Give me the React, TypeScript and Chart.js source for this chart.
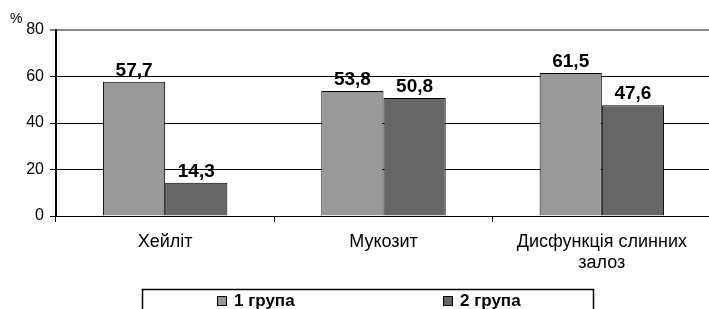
import React, { useEffect, useRef } from "react";
import { Chart, registerables } from "chart.js";

Chart.register(...registerables);

const categories: (string | string[])[] = ["Хейліт", "Мукозит", ["Дисфункція слинних", "залоз"]];
const seriesNames = ["1 група", "2 група"];
const group1 = [57.7, 53.8, 61.5];
const group2 = [14.3, 50.8, 47.6];
const seriesColors = ["#999999", "#666666"];
const yTicks = [0, 20, 40, 60, 80];
const unitLabel = "%";

const FONT = "'Liberation Sans', Arial, sans-serif";

const fmt = (v: number) => String(v).replace(".", ",");

const overlay = {
  id: "overlay",
  afterDatasetsDraw(chart: any) {
    const ctx = chart.ctx;
    ctx.save();
    // value labels
    ctx.font = `bold 19px ${FONT}`;
    ctx.fillStyle = "#000";
    ctx.textAlign = "center";
    ctx.textBaseline = "alphabetic";
    chart.data.datasets.forEach((ds: any, i: number) => {
      chart.getDatasetMeta(i).data.forEach((el: any, j: number) => {
        ctx.fillText(fmt(ds.data[j]), el.x, el.y - 6);
      });
    });
    // unit label
    ctx.font = `14px ${FONT}`;
    ctx.textAlign = "left";
    ctx.fillText(unitLabel, 10, 23);
    // legend
    ctx.strokeStyle = "#000";
    ctx.lineWidth = 1.5;
    ctx.strokeRect(142.5, 289.5, 451, 40);
    const itemX = [217, 443];
    chart.data.datasets.forEach((ds: any, i: number) => {
      const x = itemX[i];
      ctx.fillStyle = ds.backgroundColor;
      ctx.fillRect(x, 296, 10, 10);
      ctx.lineWidth = 1;
      ctx.strokeStyle = "#000";
      ctx.strokeRect(x + 0.5, 296.5, 9, 9);
      ctx.fillStyle = "#000";
      ctx.font = `bold 17px ${FONT}`;
      ctx.textAlign = "left";
      ctx.fillText(ds.label, x + 17, 306);
    });
    ctx.restore();
  },
};

export default function App() {
  const ref = useRef<HTMLCanvasElement>(null);
  useEffect(() => {
    if (!ref.current) return;
    const chart = new Chart(ref.current, {
      type: "bar",
      data: {
        labels: categories as any,
        datasets: [
          {
            label: seriesNames[0],
            data: group1,
            backgroundColor: seriesColors[0],
            borderColor: "#000",
            borderWidth: 1,
          },
          {
            label: seriesNames[1],
            data: group2,
            backgroundColor: seriesColors[1],
            borderColor: "#000",
            borderWidth: 1,
          },
        ],
      },
      options: {
        responsive: false,
        animation: false,
        devicePixelRatio: 1,
        layout: { padding: { top: 30, right: 2, left: 0, bottom: 0 } },
        datasets: { bar: { categoryPercentage: 0.57, barPercentage: 1 } },
        plugins: { legend: { display: false }, tooltip: { enabled: false } },
        scales: {
          x: {
            grid: {
              drawOnChartArea: false,
              drawTicks: true,
              tickLength: 6,
              color: "#000",
              offset: true,
            },
            border: { display: true, color: "#000", width: 1 },
            ticks: {
              font: { family: FONT, size: 18, lineHeight: 1.2 },
              color: "#000",
              padding: 9,
              maxRotation: 0,
              autoSkip: false,
            },
            afterFit: (s: any) => {
              s.height = 93;
            },
          },
          y: {
            min: 0,
            max: 80,
            afterBuildTicks: (s: any) => {
              s.ticks = yTicks.map((v) => ({ value: v }));
            },
            ticks: {
              font: { family: FONT, size: 16 },
              color: "#000",
              padding: 6,
            },
            grid: {
              color: (c: any) => (c.tick && c.tick.value === 80 ? "#8c8c8c" : "#000"),
              lineWidth: (c: any) => (c.tick && c.tick.value === 80 ? 2 : 1),
              tickLength: 6,
              tickColor: "#000",
              tickWidth: 1,
            },
            border: { display: true, color: "#000", width: 2 },
            afterFit: (s: any) => {
              s.width = 56;
            },
          },
        },
      },
      plugins: [overlay],
    });
    return () => chart.destroy();
  }, []);
  return (
    <div
      style={{
        position: "fixed",
        left: 0,
        top: 0,
        width: 709,
        height: 309,
        overflow: "hidden",
        background: "#fff",
      }}
    >
      <canvas ref={ref} width={713} height={309} />
    </div>
  );
}
